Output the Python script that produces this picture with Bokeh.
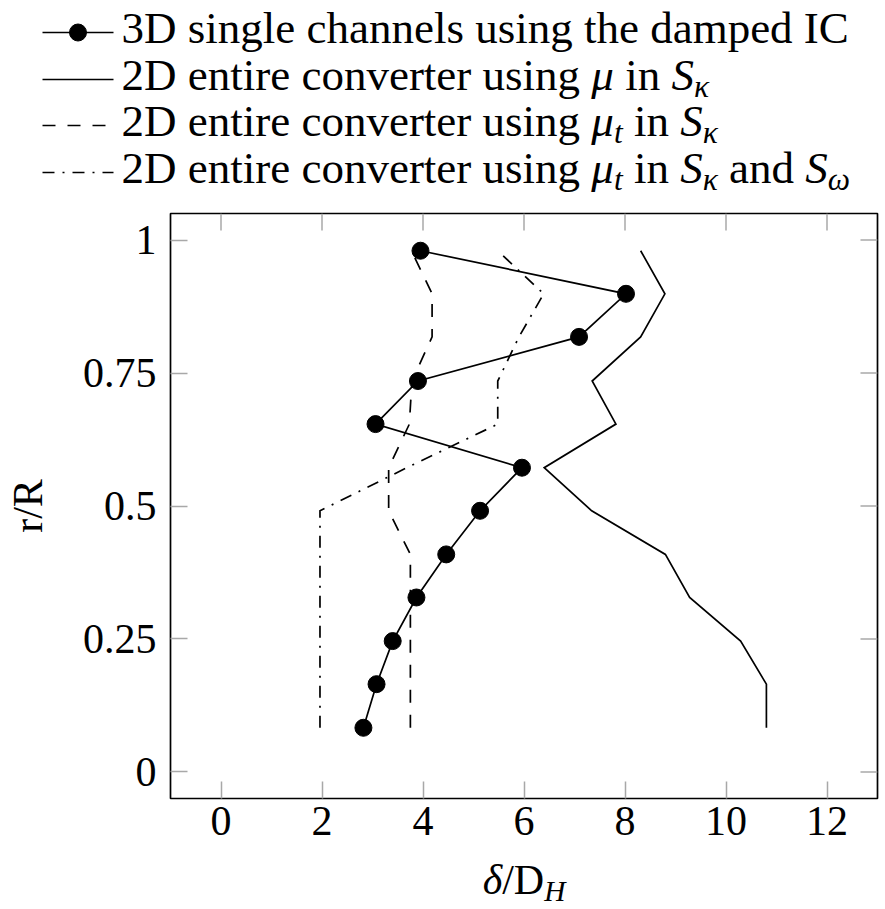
import glob
import math
import os

from bokeh.core.properties import value
from bokeh.embed import file_html
from bokeh.layouts import column
from bokeh.models import FixedTicker, LinearAxis, Range1d
from bokeh.plotting import figure
from bokeh.resources import INLINE

# ---------------------------------------------------------------------------
# Data: boundary-layer thickness delta/D_H over the radial position r/R
# ---------------------------------------------------------------------------
r_R = [0.083, 0.165, 0.246, 0.328, 0.409, 0.491, 0.572, 0.654, 0.735, 0.818, 0.899, 0.980]

delta_3d_damped = [2.82, 3.08, 3.40, 3.87, 4.46, 5.13, 5.96, 3.06, 3.90, 7.09, 8.02, 3.95]
delta_2d_mu = [10.80, 10.80, 10.29, 9.28, 8.80, 7.34, 6.40, 7.82, 7.35, 8.31, 8.79, 8.31]
delta_2d_mut_k = [3.75, 3.75, 3.75, 3.75, 3.75, 3.32, 3.32, 3.73, 3.78, 4.18, 4.18, 3.77]
delta_2d_mut_kw = [1.96, 1.96, 1.96, 1.96, 1.96, 1.96, 3.68, 5.48, 5.48, 5.90, 6.39, 5.48]

x_ticks = [0, 2, 4, 6, 8, 10, 12]
y_ticks = [0.0, 0.25, 0.5, 0.75, 1.0]
y_tick_labels = ["0", "0.25", "0.5", "0.75", "1"]

# legend entries: list of (text, italic, subscript) pieces
legend_rows = [
    [("3D single channels using the damped IC", False, False)],
    [("2D entire converter using ", False, False), ("μ", True, False),
     (" in ", False, False), ("S", True, False), ("κ", True, True)],
    [("2D entire converter using ", False, False), ("μ", True, False), ("t", True, True),
     (" in ", False, False), ("S", True, False), ("κ", True, True)],
    [("2D entire converter using ", False, False), ("μ", True, False), ("t", True, True),
     (" in ", False, False), ("S", True, False), ("κ", True, True),
     (" and ", False, False), ("S", True, False), ("ω", True, True)],
]
legend_styles = ["marker", "solid", "dashed", "dashdot"]

x_label_pieces = [("δ", True, False), ("/D", False, False), ("H", True, True)]
y_label = "r/R"

# ---------------------------------------------------------------------------
# Styling
# ---------------------------------------------------------------------------
FONT = "Liberation Serif"
TICK_PX = 42
LEG_PX = 45
SUB_SCALE = 0.7
SUB_DROP = 7
BASELINE_SHIFT = 1 / 3      # text glyphs sit this many em below the requested baseline
LINE_W = 1.7
DASH = "13 12"
DASHDOT = "12 8 2 8"
TICK_LEN = 17
TICK_COLOR = "#a8a8a8"

W = 885
H_LEG, H_MAIN, H_XLAB = 205, 648, 56     # stacked: legend / axes / x-axis title
FRAME_L, FRAME_R, FRAME_T = 170, 8, 8
FRAME_B = 55


def _find_font(fname):
    for root in ("/usr/share/fonts", "/usr/local/share/fonts", os.path.expanduser("~/.fonts")):
        hits = glob.glob(os.path.join(root, "**", fname), recursive=True)
        if hits:
            return hits[0]
    return None


_FONT_FILES = {False: _find_font("LiberationSerif-Regular.ttf"),
               True: _find_font("LiberationSerif-Italic.ttf")}
_font_cache = {}


def text_width(text, size, italic):
    """Advance width of a string in pixels (falls back to an estimate)."""
    try:
        from PIL import ImageFont
        key = (italic, round(size, 2))
        if key not in _font_cache:
            _font_cache[key] = ImageFont.truetype(_FONT_FILES[italic], size)
        return _font_cache[key].getlength(text)
    except Exception:
        return 0.47 * size * len(text)


def layout_pieces(pieces, x0, base_size):
    """Place text pieces left to right; returns (x, text, italic, sub, size) and end x."""
    out = []
    x = x0
    for text, italic, sub in pieces:
        size = base_size * SUB_SCALE if sub else base_size
        stripped = text.lstrip(" ")
        lead = text_width(text[: len(text) - len(stripped)], size, italic) if stripped != text else 0
        out.append((x + lead, stripped.rstrip(" "), italic, sub, size))
        x += text_width(text, size, italic)
    return out, x


def draw_pieces(fig, placed, baseline):
    for px, txt, italic, sub, size in placed:
        y = baseline + (SUB_DROP if sub else 0) - BASELINE_SHIFT * size
        fig.text([px], [y], text=[txt],
                 text_font=value(FONT), text_font_size=value(f"{size:.1f}px"),
                 text_font_style="italic" if italic else "normal",
                 text_baseline="alphabetic", text_align="left", text_color="black")


def no_align(fig):
    try:
        fig.frame_align = False
    except AttributeError:
        pass


def pixel_panel(height):
    """A bare drawing area whose data units are canvas pixels (y grows downwards)."""
    fig = figure(width=W, height=height, x_range=Range1d(0, W), y_range=Range1d(height, 0),
                 x_axis_type=None, y_axis_type=None, output_backend="svg",
                 toolbar_location=None, min_border=0, outline_line_color=None)
    fig.background_fill_color = "white"
    fig.border_fill_color = "white"
    fig.grid.visible = False
    no_align(fig)
    return fig


# ---------------------------------------------------------------------------
# Legend panel
# ---------------------------------------------------------------------------
leg = pixel_panel(H_LEG)
row_y = [32, 79, 125, 172]
sample_x0, sample_x1 = 42, 113
text_x0 = 121
baseline_off = 10.5

for y, style, pieces in zip(row_y, legend_styles, legend_rows):
    dash = {"marker": "solid", "solid": "solid", "dashed": DASH, "dashdot": DASHDOT}[style]
    leg.line([sample_x0, sample_x1], [y, y], line_color="black", line_width=LINE_W,
             line_dash=dash)
    if style == "marker":
        leg.scatter([(sample_x0 + sample_x1) / 2], [y], marker="circle", size=17,
                    fill_color="black", line_color="black")
    placed, _ = layout_pieces(pieces, text_x0, LEG_PX)
    draw_pieces(leg, placed, y + baseline_off)

# ---------------------------------------------------------------------------
# Main axes
# ---------------------------------------------------------------------------
x_lo, x_hi = -1, 13
y_lo, y_hi = -0.05, 1.05
p = figure(width=W, height=H_MAIN, x_range=Range1d(x_lo, x_hi), y_range=Range1d(y_lo, y_hi),
           x_axis_type=None, y_axis_type=None, output_backend="svg", toolbar_location=None,
           min_border_left=FRAME_L, min_border_right=FRAME_R, min_border_top=FRAME_T,
           min_border_bottom=FRAME_B)
no_align(p)
p.grid.visible = False
p.background_fill_color = "white"
p.border_fill_color = "white"
p.outline_line_color = "black"
p.outline_line_width = LINE_W


def make_axis(ticks):
    ax = LinearAxis(ticker=FixedTicker(ticks=ticks))
    ax.axis_line_color = None
    ax.major_tick_in = TICK_LEN
    ax.major_tick_out = 0
    ax.minor_tick_in = 0
    ax.minor_tick_out = 0
    ax.major_tick_line_color = TICK_COLOR
    ax.major_tick_line_width = 1.5
    ax.major_label_text_font = FONT
    ax.major_label_text_font_size = f"{TICK_PX}px"
    ax.major_label_text_color = "black"
    return ax


x_bottom = make_axis(x_ticks)
x_bottom.major_label_standoff = 8
y_left = make_axis(y_ticks)
y_left.major_label_standoff = 14
y_left.major_label_overrides = {t: s for t, s in zip(y_ticks, y_tick_labels)}
y_left.axis_label = y_label
y_left.axis_label_text_font = FONT
y_left.axis_label_text_font_size = f"{TICK_PX}px"
y_left.axis_label_text_font_style = "normal"
y_left.axis_label_text_color = "black"
y_left.axis_label_standoff = 29

p.add_layout(x_bottom, "below")
p.add_layout(y_left, "left")

# inward ticks on the top and right edges of the box
p.ray(x=x_ticks, y=[y_hi] * len(x_ticks), length=TICK_LEN, length_units="screen",
      angle=-math.pi / 2, line_color=TICK_COLOR, line_width=1.5)
p.ray(x=[x_hi] * len(y_ticks), y=y_ticks, length=TICK_LEN, length_units="screen",
      angle=math.pi, line_color=TICK_COLOR, line_width=1.5)

# data series
p.line(delta_3d_damped, r_R, line_color="black", line_width=LINE_W, line_join="miter")
p.scatter(delta_3d_damped, r_R, marker="circle", size=17, fill_color="black",
          line_color="black")
p.line(delta_2d_mu, r_R, line_color="black", line_width=LINE_W, line_join="miter")
p.line(delta_2d_mut_k, r_R, line_color="black", line_width=LINE_W, line_dash=DASH,
       line_join="miter")
p.line(delta_2d_mut_kw, r_R, line_color="black", line_width=LINE_W, line_dash=DASHDOT,
       line_join="miter")

# ---------------------------------------------------------------------------
# x-axis title  delta / D_H, centred under the axes box
# ---------------------------------------------------------------------------
xlab = pixel_panel(H_XLAB)
frame_center = FRAME_L + (W - FRAME_L - FRAME_R) / 2
_, total = layout_pieces(x_label_pieces, 0, TICK_PX)
placed, _ = layout_pieces(x_label_pieces, frame_center - total / 2, TICK_PX)
draw_pieces(xlab, placed, 40)

layout = column(leg, p, xlab, spacing=0)
open("out.html", "w").write(file_html(layout, INLINE))
